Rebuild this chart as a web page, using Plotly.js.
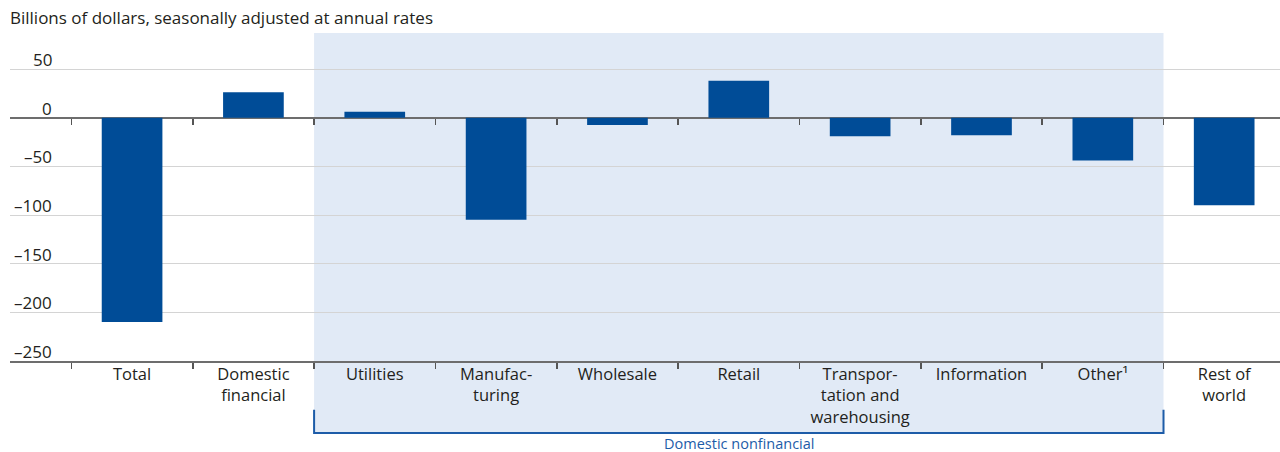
<!DOCTYPE html>
<html>
<head>
<meta charset="utf-8">
<script src="https://cdn.plot.ly/plotly-3.0.1.min.js"></script>
<style>html,body{margin:0;padding:0;background:#fff}</style>
</head>
<body>
<div id="chart" style="width:1280px;height:452px"></div>
<script>
// Change in corporate profits by industry
const categories = [
  'Total', 'Domestic<br>financial', 'Utilities', 'Manufac-<br>turing', 'Wholesale',
  'Retail', 'Transpor-<br>tation and<br>warehousing', 'Information', 'Other\u00b9', 'Rest of<br>world'
];
const values = [-210, 26, 6, -105, -7.5, 38, -19, -18, -44, -90];
const yTicks = [50, 0, -50, -100, -150, -200, -250];
const groupLabel = 'Domestic nonfinancial';
const groupFirst = 2;   // Utilities
const groupLast = 8;    // Other
const unitsLabel = 'Billions of dollars, seasonally adjusted at annual rates';

const FONT = '"Open Sans", sans-serif';
const TEXT = '#231f20';
const BLUE = '#004c97';
const yRange = [-250, 87];
const xRange = [-1.006, 9.46];

const boundaries = categories.map((_, i) => i - 0.5).filter(v => v > xRange[0]);
const zeroPos = (0 - yRange[0]) / (yRange[1] - yRange[0]);

const yLabelAnnotations = yTicks.map(v => ({
  xref: 'paper', yref: 'y', x: 0.0346, y: v,
  xanchor: 'right', yanchor: 'bottom', yshift: -4,
  text: String(v).replace('-', '\u2013'), showarrow: false,
  font: {family: FONT, size: 17, color: TEXT}
}));

const data = [
  {
    type: 'bar',
    x: categories,
    y: values,
    width: 0.5,
    marker: {color: BLUE, line: {width: 0}},
    hoverinfo: 'x+y'
  },
  // carries the boundary ticks along the zero line
  {
    type: 'scatter', mode: 'markers',
    x: [], y: [],
    xaxis: 'x2', yaxis: 'y',
    hoverinfo: 'skip', showlegend: false
  }
];

const layout = {
  width: 1280, height: 452,
  margin: {l: 10, r: 0, t: 33, b: 91},
  paper_bgcolor: '#ffffff',
  plot_bgcolor: 'rgba(0,0,0,0)',
  showlegend: false,
  title: {
    text: unitsLabel,
    xref: 'container', yref: 'container',
    x: 10 / 1280, xanchor: 'left',
    y: 1 - 18 / 452, yanchor: 'middle',
    font: {family: FONT, size: 17, color: TEXT}
  },
  xaxis: {
    type: 'category',
    range: xRange,
    showline: true, linecolor: '#6d6d6d', linewidth: 2,
    ticks: 'outside', tickson: 'boundaries', ticklen: 6,
    tickcolor: '#555', tickwidth: 1.5,
    ticklabelstandoff: -3,
    tickfont: {family: FONT, size: 16.5, color: TEXT},
    showgrid: false, zeroline: false,
    fixedrange: true
  },
  xaxis2: {
    type: 'linear',
    overlaying: 'x',
    anchor: 'free',
    position: zeroPos,
    side: 'bottom',
    range: xRange,
    tickmode: 'array',
    tickvals: boundaries,
    ticks: 'outside', ticklen: 6, tickcolor: '#555', tickwidth: 1.5,
    showticklabels: false, showline: false, showgrid: false, zeroline: false,
    fixedrange: true
  },
  yaxis: {
    range: yRange,
    tickmode: 'array', tickvals: yTicks,
    showticklabels: false,
    showgrid: true, gridcolor: '#d4d4d4', gridwidth: 1,
    zeroline: true, zerolinecolor: '#6d6d6d', zerolinewidth: 2,
    showline: false, ticks: '',
    fixedrange: true
  },
  shapes: [
    {
      type: 'rect', layer: 'below',
      xref: 'x', yref: 'paper',
      x0: groupFirst - 0.5, x1: groupLast + 0.5,
      y0: -0.2195, y1: 1,
      fillcolor: '#e1eaf6', line: {width: 0}
    },
    {
      type: 'path', layer: 'above',
      xref: 'x', yref: 'paper',
      path: `M ${groupFirst - 0.5} -0.149 L ${groupFirst - 0.5} -0.2195 L ${groupLast + 0.5} -0.2195 L ${groupLast + 0.5} -0.149`,
      line: {color: '#1d5ca8', width: 2}
    }
  ],
  annotations: [
    ...yLabelAnnotations,
    {
      xref: 'x', yref: 'paper',
      x: (groupFirst + groupLast) / 2, y: -0.253,
      xanchor: 'center', yanchor: 'middle', borderpad: 0,
      text: groupLabel, showarrow: false,
      font: {family: FONT, size: 14.5, color: '#1d5ca8'}
    }
  ]
};

Plotly.newPlot('chart', data, layout, {displayModeBar: false, staticPlot: true});
</script>
</body>
</html>
